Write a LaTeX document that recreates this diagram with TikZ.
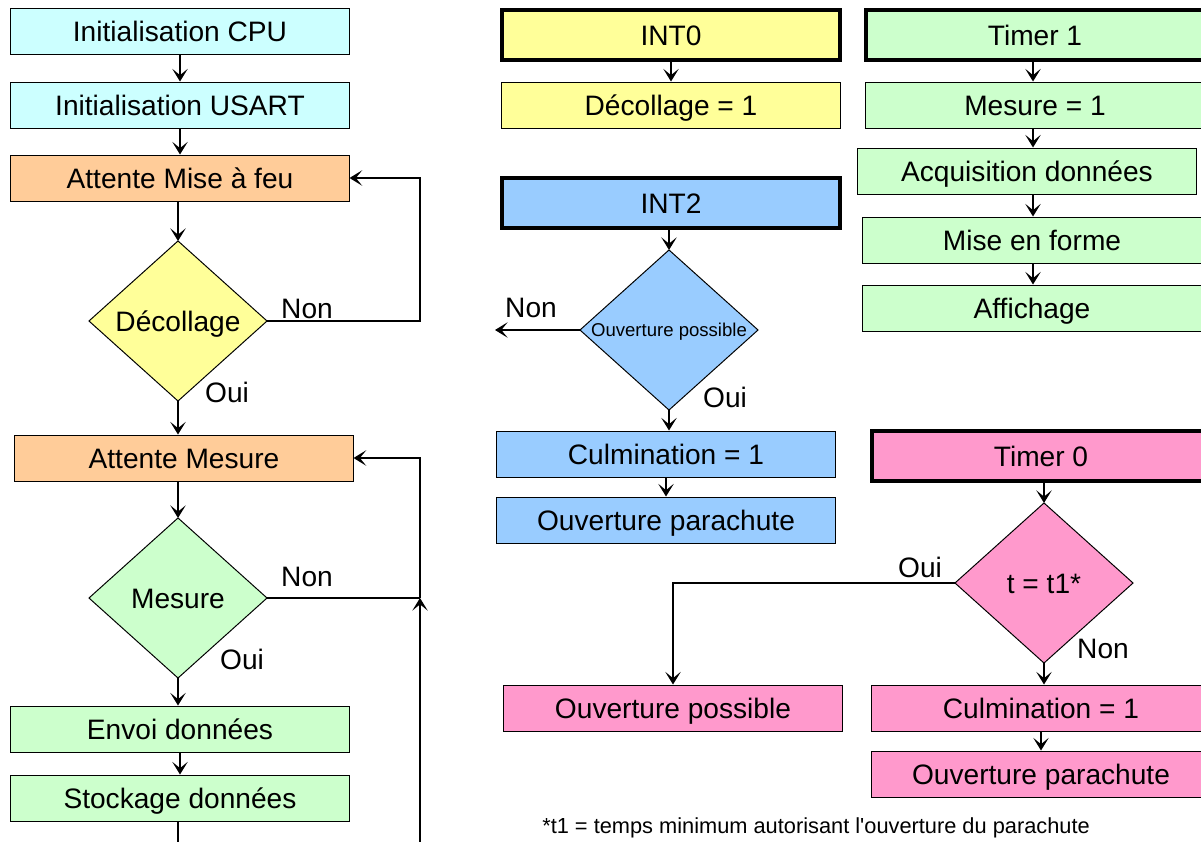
\documentclass[tikz,border=0pt]{standalone}
\usepackage{fontspec}
\setmainfont{Liberation Sans}
\usetikzlibrary{positioning}
\usetikzlibrary{shapes.geometric}
\usetikzlibrary{arrows.meta}

\definecolor{cyanbox}{HTML}{CCFFFF}
\definecolor{orangebox}{HTML}{FFCC99}
\definecolor{yellowbox}{HTML}{FFFF99}
\definecolor{greenbox}{HTML}{CCFFCC}
\definecolor{bluebox}{HTML}{99CCFF}
\definecolor{pinkbox}{HTML}{FF99CC}

\begin{document}
\begin{tikzpicture}[x=0.025cm,y=-0.025cm,
  box/.style={draw,line width=0.7pt,minimum width=8.45cm,minimum height=1.15cm,inner sep=0pt,text height=14.3pt,text depth=0pt,font=\fontsize{20}{24}\selectfont},
  head/.style={box,line width=2.8pt,minimum height=1.25cm},
  test/.style={diamond,draw,line width=0.7pt,aspect=1.1125,minimum width=4.45cm,minimum height=4cm,inner sep=0pt,outer sep=0pt,text height=14.3pt,text depth=0pt,font=\fontsize{20}{24}\selectfont},
  lbl/.style={anchor=base,inner sep=0pt,font=\fontsize{20}{24}\selectfont},
  arr/.style={-{Stealth[length=9pt,width=11pt,inset=4.5pt]},line width=0.9pt},
  lin/.style={line width=0.9pt}]
 \clip (0,0) rectangle (1201,841);
 % boucle principale
 \node[box,fill=cyanbox] (cpu) at (180,31) {Initialisation CPU};
 \node[box,fill=cyanbox] (usart) at (180,105) {Initialisation USART};
 \node[box,fill=orangebox] (feu) at (180,178) {Attente Mise à feu};
 \node[test,fill=yellowbox] (dec) at (178,321) {Décollage};
 \node[box,fill=orangebox] (attmes) at (184,458) {Attente Mesure};
 \node[test,fill=greenbox] (mesd) at (178,598) {Mesure};
 \node[box,fill=greenbox] (envoi) at (180,729) {Envoi données};
 \node[box,fill=greenbox] (stock) at (180,798) {Stockage données};
 \node[lbl] (nondec) at (307,318) {Non};
 \node[lbl] (ouidec) at (227,402) {Oui};
 \node[lbl] (nonmes) at (307,586) {Non};
 \node[lbl] (ouimes) at (242,669) {Oui};
 \coordinate (ret1) at (420,321);
 \coordinate (ret2) at (420,598);
 \coordinate (bas1) at (420,850);
 \coordinate (bas2) at (178,850);
 \draw[arr] (cpu) -- (usart);
 \draw[arr] (usart) -- (feu);
 \draw[arr] (feu.south -| dec) -- (dec);
 \draw[arr] (dec.east) -- (ret1) |- (feu.east);
 \draw[arr] (dec) -- (dec |- attmes.north);
 \draw[arr] (attmes.south -| mesd) -- (mesd);
 \draw[arr] (mesd) -- (mesd |- envoi.north);
 \draw[arr] (envoi) -- (stock);
 \draw[lin] (stock.south -| bas2) -- (bas2);
 \draw[lin] (mesd.east) -- (ret2);
 \draw[arr] (bas1) -- (ret2);
 \draw[arr] (ret2) |- (attmes.east);
 % INT0 et INT2
 \node[head,fill=yellowbox] (int0) at (671,35) {INT0};
 \node[box,fill=yellowbox] (dec1) at (671,105) {Décollage = 1};
 \node[head,fill=bluebox] (int2) at (671,203) {INT2};
 \node[test,fill=bluebox,text height=9.5pt,font=\fontsize{13.2}{15}\selectfont] (ouvd) at (669,330) {Ouverture possible};
 \node[lbl] (nonouv) at (531,317) {Non};
 \node[lbl] (ouiouv) at (725,407) {Oui};
 \coordinate (sortie) at (495,330);
 \node[box,fill=bluebox] (culm) at (666,454) {Culmination = 1};
 \node[box,fill=bluebox] (para) at (666,520) {Ouverture parachute};
 \draw[arr] (int0) -- (dec1);
 \draw[arr] (int2.south -| ouvd) -- (ouvd);
 \draw[arr] (ouvd.west) -- (sortie);
 \draw[arr] (ouvd) -- (ouvd |- culm.north);
 \draw[arr] (culm) -- (para);
 % Timer 1
 \coordinate (col1) at (1033,0);
 \node[head,fill=greenbox] (tim1) at (1035,35) {Timer 1};
 \node[box,fill=greenbox] (mes1) at (1035,105) {Mesure = 1};
 \node[box,fill=greenbox] (acq) at (1027,171) {Acquisition données};
 \node[box,fill=greenbox] (forme) at (1032,240) {Mise en forme};
 \node[box,fill=greenbox] (aff) at (1032,308) {Affichage};
 \draw[arr] (tim1.south -| col1) -- (mes1.north -| col1);
 \draw[arr] (mes1.south -| col1) -- (acq.north -| col1);
 \draw[arr] (acq.south -| col1) -- (forme.north -| col1);
 \draw[arr] (forme.south -| col1) -- (aff.north -| col1);
 % Timer 0
 \node[head,fill=pinkbox] (tim0) at (1041,456) {Timer 0};
 \node[test,fill=pinkbox] (td) at (1044,583) {t = t1*};
 \node[lbl] (ouitd) at (920,577) {Oui};
 \node[lbl] (nontd) at (1103,658) {Non};
 \node[box,fill=pinkbox] (oposs) at (673,708) {Ouverture possible};
 \node[box,fill=pinkbox] (culm0) at (1041,708) {Culmination = 1};
 \node[box,fill=pinkbox] (para0) at (1041,774) {Ouverture parachute};
 \draw[arr] (tim0.south -| td) -- (td);
 \draw[arr] (td.west) -| (oposs.north);
 \draw[arr] (td) -- (td |- culm0.north);
 \draw[arr] (culm0) -- (para0);
 \node[anchor=base west,inner sep=0pt,font=\fontsize{15.5}{18}\selectfont] (note) at (542,833) {*t1 = temps minimum autorisant l\textquotesingle ouverture du parachute};
\end{tikzpicture}
\end{document}
